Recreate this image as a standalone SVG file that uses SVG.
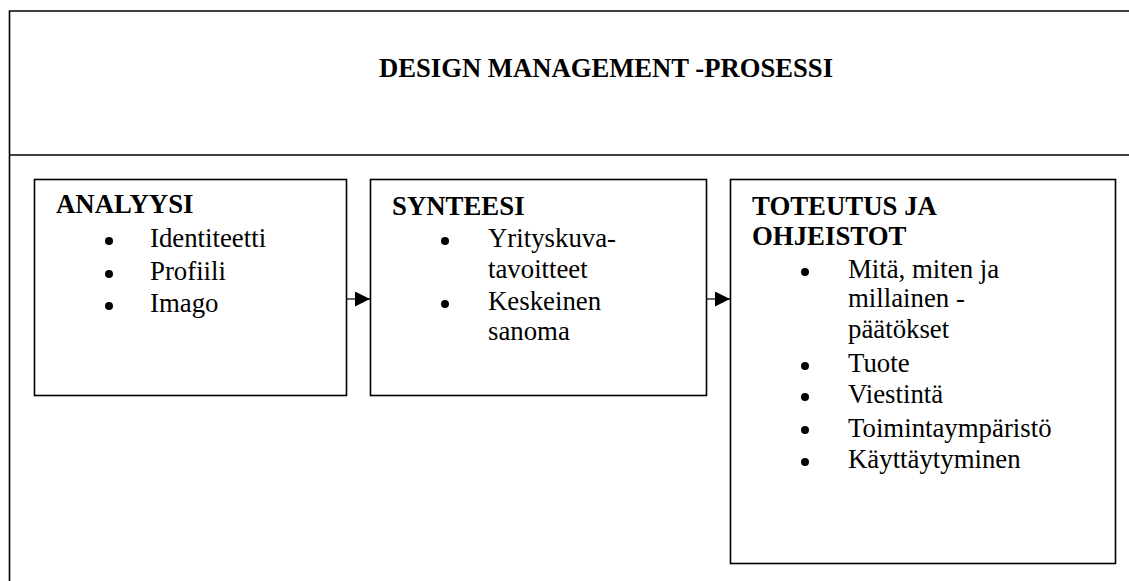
<svg xmlns="http://www.w3.org/2000/svg" width="1129" height="581" viewBox="0 0 1129 581">
<style>
.frame{fill:none;stroke:#000;stroke-width:1.6}
.box{fill:#fff;stroke:#000;stroke-width:1.6}
.h{font-family:"Liberation Serif","Times New Roman",serif;font-weight:bold;font-size:26.8px;fill:#000}
.t{font-family:"Liberation Serif","Times New Roman",serif;font-size:26.8px;fill:#000}
.conn{stroke:#000;stroke-width:1.2;fill:none}
</style>
<defs>
<marker id="arr" markerWidth="16" markerHeight="16" refX="15" refY="7.5" orient="auto" markerUnits="userSpaceOnUse">
<path d="M0,0 L15,7.5 L0,15 Z" fill="#000"/>
</marker>
</defs>
<rect width="1129" height="581" fill="#fff"/>
<g id="frame">
<path class="frame" d="M1129,11 H9.5 V581"/>
<path class="frame" d="M9.5,155 H1129"/>
<text class="h" x="379" y="77" textLength="454" lengthAdjust="spacingAndGlyphs">DESIGN MANAGEMENT -PROSESSI</text>
</g>
<g id="analyysi">
<rect class="box" x="34.5" y="179.5" width="312" height="216"/>
<text class="h" x="56" y="213">ANALYYSI</text>
<circle cx="109" cy="241" r="4"/>
<text class="t" x="150" y="247">Identiteetti</text>
<circle cx="109" cy="274" r="4"/>
<text class="t" x="150" y="280">Profiili</text>
<circle cx="109" cy="306" r="4"/>
<text class="t" x="150" y="312">Imago</text>
</g>
<g id="synteesi">
<rect class="box" x="370.5" y="179.5" width="336" height="216"/>
<text class="h" x="392" y="215">SYNTEESI</text>
<circle cx="445" cy="241" r="4"/>
<text class="t" x="488" y="247">Yrityskuva-</text>
<text class="t" x="488" y="278">tavoitteet</text>
<circle cx="445" cy="304" r="4"/>
<text class="t" x="488" y="310">Keskeinen</text>
<text class="t" x="488" y="340">sanoma</text>
</g>
<g id="toteutus">
<rect class="box" x="730.5" y="179.5" width="385" height="384"/>
<text class="h" x="752" y="215">TOTEUTUS JA</text>
<text class="h" x="752" y="245">OHJEISTOT</text>
<circle cx="805" cy="272" r="4"/>
<text class="t" x="848" y="278">Mitä, miten ja</text>
<text class="t" x="848" y="307">millainen -</text>
<text class="t" x="848" y="338">päätökset</text>
<circle cx="805" cy="366" r="4"/>
<text class="t" x="848" y="372">Tuote</text>
<circle cx="805" cy="397" r="4"/>
<text class="t" x="848" y="403">Viestintä</text>
<circle cx="805" cy="430" r="4"/>
<text class="t" x="848" y="437">Toimintaympäristö</text>
<circle cx="805" cy="462" r="4"/>
<text class="t" x="848" y="468">Käyttäytyminen</text>
</g>
<g id="connectors">
<line class="conn" x1="347" y1="299" x2="370" y2="299" marker-end="url(#arr)"/>
<line class="conn" x1="707" y1="299" x2="730" y2="299" marker-end="url(#arr)"/>
</g>
</svg>
